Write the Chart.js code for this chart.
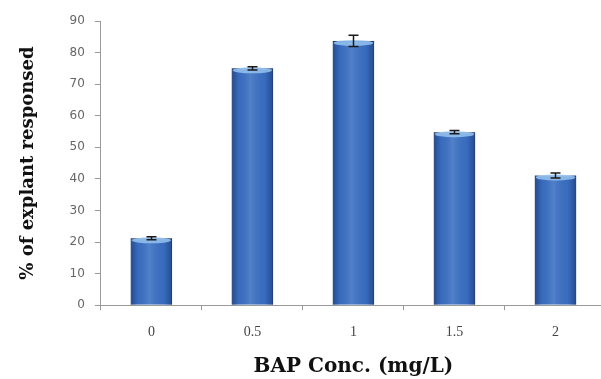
<!DOCTYPE html>
<html>
<head>
<meta charset="utf-8">
<script src="https://cdn.jsdelivr.net/npm/chart.js@4/dist/chart.umd.min.js"></script>
<style>
html,body{margin:0;padding:0;background:#fff;overflow:hidden;}
#wrap{width:606px;height:379px;position:relative;}
</style>
</head>
<body>
<div id="wrap"><canvas id="c" width="606" height="379"></canvas></div>
<script>
const categories = ["0", "0.5", "1", "1.5", "2"];
const responded = [21.2, 75, 83.7, 54.8, 41.1];
const errors = [0.5, 0.5, 1.8, 0.5, 0.8];
const yTicks = [0, 10, 20, 30, 40, 50, 60, 70, 80, 90];

const barDecor = {
  id: 'barDecor',
  afterDatasetDraw(chart, args) {
    if (args.index !== 0) return;
    const ctx = chart.ctx;
    const meta = args.meta;
    meta.data.forEach((el) => {
      const w = el.width, x0 = el.x - w / 2, x1 = el.x + w / 2;
      const top = el.y, bot = el.base;
      ctx.save();
      const g = ctx.createLinearGradient(x0, 0, x1, 0);
      g.addColorStop(0, 'rgba(20,45,100,0.55)');
      g.addColorStop(0.18, 'rgba(20,45,100,0.05)');
      g.addColorStop(0.45, 'rgba(255,255,255,0.12)');
      g.addColorStop(0.8, 'rgba(20,45,100,0.05)');
      g.addColorStop(1, 'rgba(20,45,100,0.55)');
      ctx.fillStyle = g;
      ctx.fillRect(x0, top, w, bot - top);
      ctx.beginPath();
      ctx.ellipse(el.x, top + 2, w / 2 - 1, 3, 0, 0, Math.PI * 2);
      ctx.fillStyle = 'rgba(150,195,240,0.85)';
      ctx.fill();
      ctx.restore();
    });
  },
  afterDatasetsDraw(chart) {
    const ctx = chart.ctx;
    const ys = chart.scales.y;
    const meta = chart.getDatasetMeta(0);
    ctx.save();
    ctx.strokeStyle = '#1a1a1a';
    ctx.lineWidth = 1.5;
    meta.data.forEach((el, i) => {
      const v = responded[i], e = errors[i];
      const yT = ys.getPixelForValue(v + e), yB = ys.getPixelForValue(v - e);
      const x = Math.round(el.x) + 0.5;
      ctx.beginPath();
      ctx.moveTo(x, yT); ctx.lineTo(x, yB);
      ctx.moveTo(x - 5, yT); ctx.lineTo(x + 5, yT);
      ctx.moveTo(x - 5, yB); ctx.lineTo(x + 5, yB);
      ctx.stroke();
    });
    ctx.restore();
  }
};

new Chart(document.getElementById('c'), {
  type: 'bar',
  data: {
    labels: categories,
    datasets: [{
      data: responded,
      backgroundColor: '#3a6fc2',
      borderColor: '#1e3c78',
      borderWidth: 1,
      barPercentage: 0.41,
      categoryPercentage: 1.0
    }]
  },
  options: {
    responsive: false,
    animation: false,
    devicePixelRatio: 1,
    layout: { padding: { top: 21, left: 18, right: 0, bottom: 0 } },
    plugins: { legend: { display: false }, tooltip: { enabled: false } },
    scales: {
      x: {
        grid: { offset: true, drawOnChartArea: false, tickLength: 5, color: '#9a9a9a' },
        border: { color: '#9a9a9a', width: 1 },
        ticks: { color: '#444', font: { family: 'Liberation Serif', size: 14 }, padding: 14 },
        title: { display: true, text: 'BAP Conc. (mg/L)', color: '#111',
                 font: { family: 'DejaVu Serif', size: 20, weight: 'bold' }, padding: { top: 0, bottom: 0 } }
      },
      y: {
        min: 0, max: 90,
        afterBuildTicks(scale) { scale.ticks = yTicks.map(v => ({ value: v })); },
        grid: { drawOnChartArea: false, tickLength: 6, color: '#9a9a9a' },
        border: { color: '#9a9a9a', width: 1 },
        ticks: { color: '#666', font: { family: 'DejaVu Sans', size: 12 }, padding: 10 },
        title: { display: true, text: '% of explant responsed', color: '#111',
                 font: { family: 'DejaVu Serif', size: 18, weight: 'bold' }, padding: { top: 0, bottom: 20 } }
      }
    }
  },
  plugins: [barDecor]
});
</script>
</body>
</html>
